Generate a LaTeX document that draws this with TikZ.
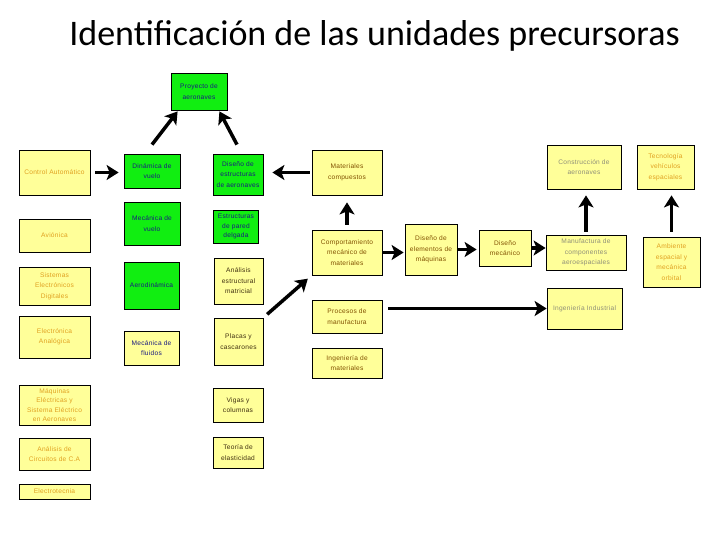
\documentclass[tikz,border=0pt]{standalone}
\usepackage{fontspec}
\setmainfont{Liberation Sans}
\newfontfamily\titlefont{Carlito}
\newfontfamily\boxfont[LetterSpace=4]{Liberation Sans}
\usetikzlibrary{arrows.meta,calc}
\definecolor{gfill}{HTML}{11EE11}
\definecolor{yfill}{HTML}{FFFF99}
\definecolor{orT}{HTML}{E0A020}
\definecolor{blT}{HTML}{1A1A80}
\definecolor{brT}{HTML}{805000}
\definecolor{grT}{HTML}{8F8F78}
\definecolor{dkT}{HTML}{403010}
\tikzset{
  bx/.style={draw=black, line width=0.8bp, align=center, inner sep=0pt,
    font=\boxfont\fontsize{6.6bp}{10.5bp}\selectfont},
  tightbx/.style={font=\boxfont\fontsize{6.6bp}{9.4bp}\selectfont},
  gbx/.style={bx, fill=gfill, text=blT},
  ybx/.style={bx, fill=yfill},
  arr/.style={line width=3.5bp, -{Stealth[length=12bp,width=15bp,inset=3bp]}},
  sz/.style 2 args={minimum width=#1bp, minimum height=#2bp}
}
\begin{document}
\begin{tikzpicture}[x=1bp,y=-1bp]
\useasboundingbox (0,0) rectangle (720,540);
\node[font=\titlefont\fontsize{36bp}{40bp}\selectfont] (title) at (374.5,36) {Identificación de las unidades precursoras};

\node[gbx, sz={56}{37}] (proy) at (199,91.5) {Proyecto de\\aeronaves};
\node[ybx, text=orT, sz={71}{45}] (ctrl) at (54.5,172.5) {Control Automático};
\node[gbx, sz={56}{34}] (dinv) at (152,171) {Dinámica de\\vuelo};
\node[gbx, sz={50}{41}] (dise) at (238,174.5) {Diseño de\\estructuras\\de aeronaves};
\node[ybx, text=brT, sz={70}{45}] (mat) at (347,172.5) {Materiales\\compuestos};
\node[ybx, text=grT, sz={74}{44}] (cons) at (584,167) {Construcción de\\aeronaves};
\node[ybx, text=orT, sz={57}{44}] (tec) at (665.5,167) {Tecnología\\vehículos\\espaciales};
\node[gbx, sz={56}{43}] (mecv) at (152,223.5) {Mecánica de\\vuelo};
\node[gbx, sz={45}{33}, tightbx] (pared) at (236,226.5) {Estructuras\\de pared\\delgada};
\node[ybx, text=orT, sz={71}{33}] (avi) at (54.5,235.5) {Aviónica};
\node[ybx, text=brT, sz={70}{45}] (comp) at (347,252.5) {Comportamiento\\mecánico de\\materiales};
\node[ybx, text=brT, sz={52}{51}] (delem) at (431,249.5) {Diseño de\\elementos de\\máquinas};
\node[ybx, text=brT, sz={52}{36}] (dmec) at (505,248) {Diseño\\mecánico};
\node[ybx, text=grT, sz={80}{35}] (manuf) at (586,252.5) {Manufactura de\\componentes\\aeroespaciales};
\node[ybx, text=orT, sz={57}{50}] (amb) at (671.5,262) {Ambiente\\espacial y\\mecánica\\orbital};
\node[ybx, text=orT, sz={71}{38}] (sed) at (54.5,286) {Sistemas\\Electrónicos\\Digitales};
\node[gbx, sz={55}{47}] (aero) at (151.5,285.5) {Aerodinámica};
\node[ybx, text=dkT, sz={49}{46}] (aem) at (238.5,281) {Análisis\\estructural\\matricial};
\node[ybx, text=brT, sz={70}{33}] (proc) at (347,316.5) {Procesos de\\manufactura};
\node[ybx, text=grT, sz={75}{41}] (ind) at (584.5,308.5) {Ingeniería Industrial};
\node[ybx, text=orT, sz={71}{42}] (ean) at (54.5,337) {Electrónica\\Analógica};
\node[ybx, text=blT, sz={55}{34}] (mfl) at (151.5,348) {Mecánica de\\fluidos};
\node[ybx, text=dkT, sz={49}{47}] (plac) at (238.5,341.5) {Placas y\\cascarones};
\node[ybx, text=brT, sz={70}{30}] (ingm) at (347,363) {Ingeniería de\\materiales};
\node[ybx, text=orT, sz={71}{40}, tightbx] (maq) at (54.5,405) {Máquinas\\Eléctricas y\\Sistema Eléctrico\\en Aeronaves};
\node[ybx, text=dkT, sz={50}{34}] (vig) at (238,405) {Vigas y\\columnas};
\node[ybx, text=orT, sz={71}{32}] (circ) at (54.5,454) {Análisis de\\Circuitos de C.A};
\node[ybx, text=dkT, sz={50}{31}] (teo) at (238,452.5) {Teoría de\\elasticidad};
\node[ybx, text=orT, sz={71}{15}] (elec) at (54.5,491.5) {Electrotecnia};

\draw[arr] ($(dinv.north)+(0,-9)$) -- ($(proy.south west)+(7,1)$);
\draw[arr] ($(dise.north)+(-1,-9)$) -- ($(proy.south east)+(-8,1)$);
\draw[arr, shorten <=5bp, shorten >=5bp] (ctrl.east) -- (ctrl.east -| dinv.west);
\draw[arr, shorten <=2bp, shorten >=9bp] (mat.west) -- (mat.west -| dise.east);
\draw[arr, shorten <=5bp, shorten >=7bp] (comp.north) -- (comp.north |- mat.south);
\draw[arr, shorten <=5bp, shorten >=5bp] (plac.north east) -- (comp.south west);
\draw[arr, shorten >=1bp] (comp.east) -- (comp.east -| delem.west);
\draw[arr, shorten >=2bp] (delem.east) -- (delem.east -| dmec.west);
\draw[arr] (dmec.east) -- (dmec.east -| manuf.west);
\draw[arr, shorten <=3bp, shorten >=6bp] (manuf.north) -- (manuf.north |- cons.south);
\draw[arr, shorten <=5bp, shorten >=6bp] (amb.north) -- (amb.north |- tec.south);
\draw[arr, shorten <=6bp] (ind.west -| proc.east) -- (ind.west);
\end{tikzpicture}
\end{document}
